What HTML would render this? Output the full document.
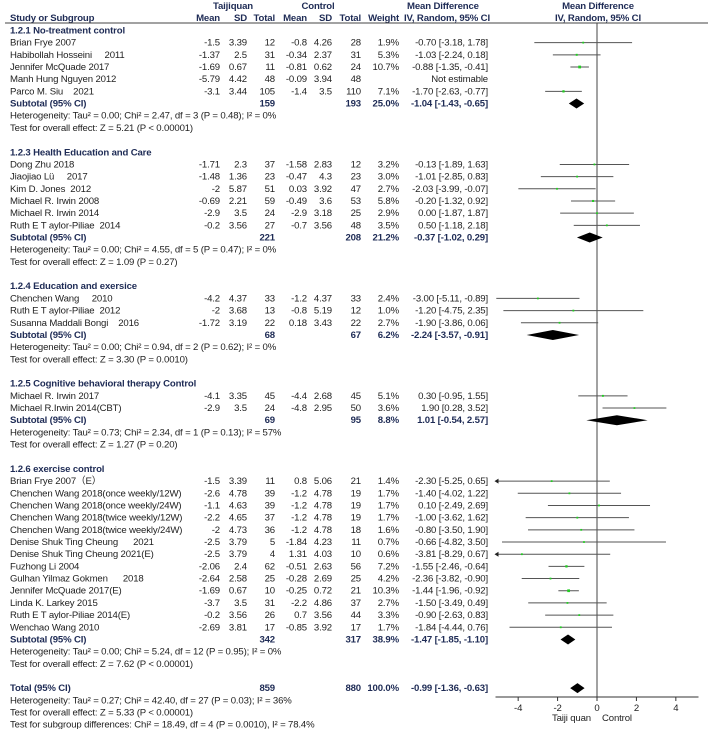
<!DOCTYPE html>
<html><head><meta charset="utf-8"><style>
html,body{margin:0;padding:0;background:#fff;}
svg{display:block;font-family:"Liberation Sans",Arial,sans-serif;}
text{font-size:9.6px;letter-spacing:-0.15px;fill:#222;white-space:pre;}
.b{font-weight:bold;fill:#1e2b55;}
</style></head><body>
<svg id="chart" width="708" height="729" viewBox="0 0 708 729" xmlns="http://www.w3.org/2000/svg" xml:space="preserve">
<g id="hdr">
<text class="b" x="233" y="9" text-anchor="middle">Taijiquan</text>
<text class="b" x="318" y="9" text-anchor="middle">Control</text>
<text class="b" x="407" y="9">Mean Difference</text>
<text class="b" x="598" y="9" text-anchor="middle">Mean Difference</text>
<text class="b" x="10" y="21">Study or Subgroup</text>
<text class="b" x="220" y="21" text-anchor="end">Mean</text>
<text class="b" x="247" y="21" text-anchor="end">SD</text>
<text class="b" x="275" y="21" text-anchor="end">Total</text>
<text class="b" x="307" y="21" text-anchor="end">Mean</text>
<text class="b" x="332" y="21" text-anchor="end">SD</text>
<text class="b" x="361" y="21" text-anchor="end">Total</text>
<text class="b" x="399" y="21" text-anchor="end">Weight</text>
<text class="b" x="404" y="21">IV, Random, 95% CI</text>
<text class="b" x="598" y="21" text-anchor="middle">IV, Random, 95% CI</text>
<line x1="5" y1="23" x2="708" y2="23" stroke="#444" stroke-width="1"/>
</g>
<g id="rows"></g>
<g id="plot"></g>
</svg>
<script>
const rowKind = ["","","g","s","s","s","s","s","t","h","h","b","g","s","s","s","s","s","s","t","h","h","b","g","s","s","s","t","h","h","b","g","s","s","t","h","h","b","g","s","s","s","s","s","s","s","s","s","s","s","s","s","t","h","h","b","T","h","h","h"];
const rowLabel = ["","","1.2.1 No-treatment control","Brian Frye 2007","Habibollah Hosseini     2011","Jennifer McQuade 2017","Manh Hung Nguyen 2012","Parco M. Siu    2021","Subtotal (95% CI)","Heterogeneity: Tau² = 0.00; Chi² = 2.47, df = 3 (P = 0.48); I² = 0%","Test for overall effect: Z = 5.21 (P < 0.00001)","",
"1.2.3 Health Education and Care","Dong Zhu 2018","Jiaojiao Lü     2017","Kim D. Jones  2012","Michael R. Irwin 2008","Michael R. Irwin 2014","Ruth E T aylor-Piliae  2014","Subtotal (95% CI)","Heterogeneity: Tau² = 0.00; Chi² = 4.55, df = 5 (P = 0.47); I² = 0%","Test for overall effect: Z = 1.09 (P = 0.27)","",
"1.2.4 Education and exersice","Chenchen Wang     2010","Ruth E T aylor-Piliae  2012","Susanna Maddali Bongi    2016","Subtotal (95% CI)","Heterogeneity: Tau² = 0.00; Chi² = 0.94, df = 2 (P = 0.62); I² = 0%","Test for overall effect: Z = 3.30 (P = 0.0010)","",
"1.2.5 Cognitive behavioral therapy Control","Michael R. Irwin 2017","Michael R.Irwin 2014(CBT)","Subtotal (95% CI)","Heterogeneity: Tau² = 0.73; Chi² = 2.34, df = 1 (P = 0.13); I² = 57%","Test for overall effect: Z = 1.27 (P = 0.20)","",
"1.2.6 exercise control","Brian Frye 2007（E）","Chenchen Wang 2018(once weekly/12W)","Chenchen Wang 2018(once weekly/24W)","Chenchen Wang 2018(twice weekly/12W)","Chenchen Wang 2018(twice weekly/24W)","Denise Shuk Ting Cheung      2021","Denise Shuk Ting Cheung 2021(E)","Fuzhong Li 2004","Gulhan Yilmaz Gokmen      2018","Jennifer McQuade 2017(E)","Linda K. Larkey 2015","Ruth E T aylor-Piliae 2014(E)","Wenchao Wang 2010","Subtotal (95% CI)","Heterogeneity: Tau² = 0.00; Chi² = 5.24, df = 12 (P = 0.95); I² = 0%","Test for overall effect: Z = 7.62 (P < 0.00001)","",
"Total (95% CI)","Heterogeneity: Tau² = 0.27; Chi² = 42.40, df = 27 (P = 0.03); I² = 36%","Test for overall effect: Z = 5.33 (P < 0.00001)","Test for subgroup differences: Chi² = 18.49, df = 4 (P = 0.0010), I² = 78.4%"];
const tjMean = ["","","","-1.5","-1.37","-1.69","-5.79","-3.1","","","","","","-1.71","-1.48","-2","-0.69","-2.9","-0.2","","","","","","-4.2","-2","-1.72","","","","","","-4.1","-2.9","","","","","","-1.5","-2.6","-1.1","-2.2","-2","-2.5","-2.5","-2.06","-2.64","-1.69","-3.7","-0.2","-2.69","","","","","","","",""];
const tjSd = ["","","","3.39","2.5","0.67","4.42","3.44","","","","","","2.3","1.36","5.87","2.21","3.5","3.56","","","","","","4.37","3.68","3.19","","","","","","3.35","3.5","","","","","","3.39","4.78","4.63","4.65","4.73","3.79","3.79","2.4","2.58","0.67","3.5","3.56","3.81","","","","","","","",""];
const tjN = ["","","","12","31","11","48","105","159","","","","","37","23","51","59","24","27","221","","","","","33","13","22","68","","","","","45","24","69","","","","","11","39","39","37","36","5","4","62","25","10","31","26","17","342","","","","859","","",""];
const cMean = ["","","","-0.8","-0.34","-0.81","-0.09","-1.4","","","","","","-1.58","-0.47","0.03","-0.49","-2.9","-0.7","","","","","","-1.2","-0.8","0.18","","","","","","-4.4","-4.8","","","","","","0.8","-1.2","-1.2","-1.2","-1.2","-1.84","1.31","-0.51","-0.28","-0.25","-2.2","0.7","-0.85","","","","","","","",""];
const cSd = ["","","","4.26","2.37","0.62","3.94","3.5","","","","","","2.83","4.3","3.92","3.6","3.18","3.56","","","","","","4.37","5.19","3.43","","","","","","2.68","2.95","","","","","","5.06","4.78","4.78","4.78","4.78","4.23","4.03","2.63","2.69","0.72","4.86","3.56","3.92","","","","","","","",""];
const cN = ["","","","28","31","24","48","110","193","","","","","12","23","47","53","25","48","208","","","","","33","12","22","67","","","","","45","50","95","","","","","21","19","19","19","18","11","10","56","25","21","37","44","17","317","","","","880","","",""];
const rowMd = [null,null,null,-0.70,-1.03,-0.88,null,-1.70,-1.04,null,null,null,null,-0.13,-1.01,-2.03,-0.20,0.00,0.50,-0.37,null,null,null,null,-3.00,-1.20,-1.90,-2.24,null,null,null,null,0.30,1.90,1.01,null,null,null,null,-2.30,-1.40,0.10,-1.00,-0.80,-0.66,-3.81,-1.55,-2.36,-1.44,-1.50,-0.90,-1.84,-1.47,null,null,null,-0.99,null,null,null];
const rowLo = [null,null,null,-3.18,-2.24,-1.35,null,-2.63,-1.43,null,null,null,null,-1.89,-2.85,-3.99,-1.32,-1.87,-1.18,-1.02,null,null,null,null,-5.11,-4.75,-3.86,-3.57,null,null,null,null,-0.95,0.28,-0.54,null,null,null,null,-5.25,-4.02,-2.49,-3.62,-3.50,-4.82,-8.29,-2.46,-3.82,-1.96,-3.49,-2.63,-4.44,-1.85,null,null,null,-1.36,null,null,null];
const rowHi = [null,null,null,1.78,0.18,-0.41,null,-0.77,-0.65,null,null,null,null,1.63,0.83,-0.07,0.92,1.87,2.18,0.29,null,null,null,null,-0.89,2.35,0.06,-0.91,null,null,null,null,1.55,3.52,2.57,null,null,null,null,0.65,1.22,2.69,1.62,1.90,3.50,0.67,-0.64,-0.90,-0.92,0.49,0.83,0.76,-1.10,null,null,null,-0.63,null,null,null];
const rowWeight = [null,null,null,1.9,5.3,10.7,null,7.1,25.0,null,null,null,null,3.2,3.0,2.7,5.8,2.9,3.5,21.2,null,null,null,null,2.4,1.0,2.7,6.2,null,null,null,null,5.1,3.6,8.8,null,null,null,null,1.4,1.7,1.7,1.7,1.6,0.7,0.6,7.2,4.2,10.3,2.7,3.3,1.7,38.9,null,null,null,100.0,null,null,null];
const axisTicks = [-4,-2,0,2,4];
const axisMin = -5.15, axisMax = 5.15;

const NS = "http://www.w3.org/2000/svg";
const X0 = 495.5, X1 = 698.5, AXY = 697;
function xs(v){ return X0 + (v-axisMin)/(axisMax-axisMin)*(X1-X0); }
function ys(i){ return 5.6 + i*12.18; }
function mk(tag, attrs, parent){ const e=document.createElementNS(NS,tag); for(const k in attrs) e.setAttribute(k,attrs[k]); parent.appendChild(e); return e; }
function fmt(v){ return v.toFixed(2); }
const rowsG = document.getElementById('rows');
const plotG = document.getElementById('plot');

function txt(x,y,s,anchor,cls,name){
  const t = mk('text',{x:x,y:y,'text-anchor':anchor},rowsG);
  if(cls) t.setAttribute('class',cls);
  t.textContent = s;
  
  
  return t;
}

for(let i=2;i<rowKind.length;i++){
  const k = rowKind[i], by = ys(i)+3.5;
  if(k==='b') continue;
  const bold = (k==='g'||k==='t'||k==='T') ? 'b' : null;
  txt(10,by,rowLabel[i],'start',bold,'row-label-'+i);
  const bcls = (k==='t'||k==='T') ? 'b' : null;
  if(tjMean[i]) txt(220,by,tjMean[i],'end',null,'tj-mean-'+i);
  if(tjSd[i]) txt(247,by,tjSd[i],'end',null,'tj-sd-'+i);
  if(tjN[i]) txt(275,by,tjN[i],'end',bcls,'tj-total-'+i);
  if(cMean[i]) txt(307,by,cMean[i],'end',null,'c-mean-'+i);
  if(cSd[i]) txt(332,by,cSd[i],'end',null,'c-sd-'+i);
  if(cN[i]) txt(361,by,cN[i],'end',bcls,'c-total-'+i);
  if(rowWeight[i]!==null) txt(399,by,rowWeight[i].toFixed(1)+'%','end',bcls,'weight-'+i);
  if(k==='s' && rowMd[i]===null) txt(488,by,'Not estimable','end',null,'ci-text-'+i);
  if(rowMd[i]!==null) txt(488,by,fmt(rowMd[i])+' ['+fmt(rowLo[i])+', '+fmt(rowHi[i])+']','end',bcls,'ci-text-'+i);
}

const zl = mk('line',{x1:xs(0),y1:23,x2:xs(0),y2:AXY,stroke:'#444','stroke-width':1},plotG);



for(let i=0;i<rowKind.length;i++){
  if(rowMd[i]===null) continue;
  const cy = ys(i)+0.5, k = rowKind[i];
  if(k==='s'){
    const lo = Math.max(rowLo[i],axisMin), hi = Math.min(rowHi[i],axisMax);
    const l = mk('line',{x1:xs(lo),y1:cy,x2:xs(hi),y2:cy,stroke:'#555','stroke-width':1},plotG);
    
    
    if(rowLo[i]<axisMin){
      const a = mk('path',{d:`M${xs(axisMin)-1},${cy} l4,-2.5 l0,5 z`,fill:'#222'},plotG);
      
      
    }
    const s = Math.max(1.8, 0.85*Math.sqrt(rowWeight[i]));
    const r = mk('rect',{x:xs(rowMd[i])-s/2,y:cy-s/2,width:s,height:s,fill:'#22cc22'},plotG);
    
    
  } else {
    const d = mk('path',{d:`M${xs(rowLo[i])},${cy} L${xs(rowMd[i])},${cy-5} L${xs(rowHi[i])},${cy} L${xs(rowMd[i])},${cy+5} Z`,fill:'#000'},plotG);
    
    
  }
}

const ax = mk('line',{x1:X0,y1:AXY,x2:X1,y2:AXY,stroke:'#333','stroke-width':1},plotG);


axisTicks.forEach(v=>{
  const t = mk('line',{x1:xs(v),y1:AXY,x2:xs(v),y2:AXY+4,stroke:'#333','stroke-width':1},plotG);
  
  
  const lb = mk('text',{x:xs(v),y:AXY+14,'text-anchor':'middle'},plotG);
  lb.textContent = String(v);
  
  
});
const f1 = mk('text',{x:xs(0)-6,y:721,'text-anchor':'end'},plotG);
f1.textContent = 'Taiji quan';


const f2 = mk('text',{x:xs(0)+5,y:721,'text-anchor':'start'},plotG);
f2.textContent = 'Control';


</script>
</body></html>
